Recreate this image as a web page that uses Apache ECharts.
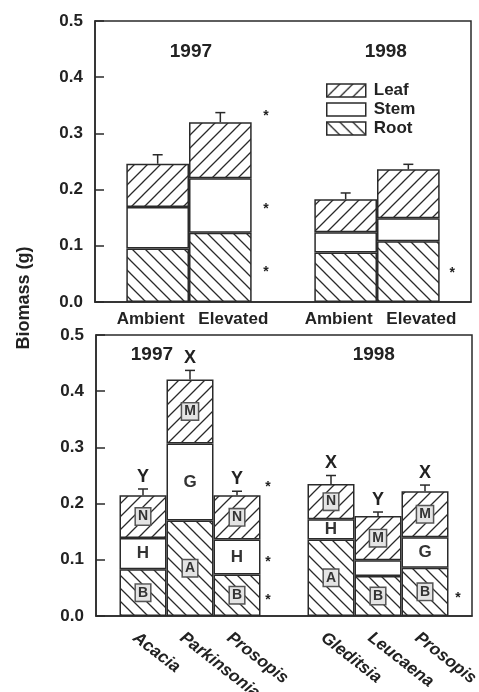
<html>
<head>
<meta charset="utf-8" />
<script src="https://cdn.jsdelivr.net/npm/echarts@6.0.0/dist/echarts.min.js"></script>
<style>
  body { margin: 0; background: #fff; }
  #main { width: 479px; height: 692px; }
</style>
</head>
<body>
<div id="main"></div>
<script>
// top panel: CO2 treatment (blank slots keep the gap between years)
const topCats = ['', 'Ambient', 'Elevated', '', 'Ambient', 'Elevated', ''];
const topRoot = [null, 0.095, 0.123, null, 0.088, 0.108, null];
const topStem = [null, 0.074, 0.097, null, 0.036, 0.041, null];
const topLeaf = [null, 0.077, 0.100, null, 0.059, 0.087, null];
const topErr = [null, 0.016, 0.017, null, 0.011, 0.009, null];
const topNotes = [
  ['1997', 1.53, 0.446], ['1998', 4.64, 0.446],
  ['*', 2.73, 0.338], ['*', 2.73, 0.173], ['*', 2.73, 0.061], ['*', 5.70, 0.059]
];

// bottom panel: species
const botCats = ['', 'Acacia', 'Parkinsonia', 'Prosopis', '', 'Gleditsia', 'Leucaena', 'Prosopis', ''];
const botRoot = [null, 0.083, 0.170, 0.074, null, 0.136, 0.071, 0.086, null];
const botStem = [null, 0.056, 0.137, 0.062, null, 0.036, 0.028, 0.054, null];
const botLeaf = [null, 0.076, 0.114, 0.079, null, 0.063, 0.079, 0.082, null];
const botErr = [null, 0.011, 0.016, 0.007, null, 0.015, 0.007, 0.011, null];
const botGroup = ['', 'Y', 'X', 'Y', '', 'X', 'Y', 'X', ''];
const rootTags = ['', 'B', 'A', 'B', '', 'A', 'B', 'B', ''];
const stemTags = ['', 'H', 'G', 'H', '', 'H', '', 'G', ''];
const leafTags = ['', 'N', 'M', 'N', '', 'N', 'M', 'M', ''];
const botNotes = [
  ['1997', 1.19, 0.464], ['1998', 5.91, 0.464],
  ['*', 3.66, 0.236], ['*', 3.66, 0.103], ['*', 3.66, 0.035], ['*', 7.70, 0.039]
];

const FONT = "'Liberation Sans', Arial, sans-serif";
const INK = '#2a2a2a';

function hatch(dir) {
  const s = 13;
  const c = document.createElement('canvas');
  c.width = s;
  c.height = s;
  const g = c.getContext('2d');
  g.fillStyle = '#fff';
  g.fillRect(0, 0, s, s);
  g.strokeStyle = INK;
  g.lineWidth = 1.3;
  g.beginPath();
  if (dir > 0) {
    g.moveTo(0, s); g.lineTo(s, 0);
    g.moveTo(-2, 2); g.lineTo(2, -2);
    g.moveTo(s - 2, s + 2); g.lineTo(s + 2, s - 2);
  } else {
    g.moveTo(0, 0); g.lineTo(s, s);
    g.moveTo(-2, s - 2); g.lineTo(2, s + 2);
    g.moveTo(s - 2, -2); g.lineTo(s + 2, 2);
  }
  g.stroke();
  return { image: c, repeat: 'repeat' };
}

const fills = { Leaf: hatch(1), Stem: '#fff', Root: hatch(-1) };

function bars(name, data, xi, yi, tags, boxed) {
  const s = {
    name: name,
    type: 'bar',
    stack: 'p' + yi,
    xAxisIndex: xi,
    yAxisIndex: yi,
    barWidth: '100%',
    data: data,
    itemStyle: { color: fills[name], borderColor: INK, borderWidth: 1.5 },
    emphasis: { disabled: true }
  };
  if (tags) {
    s.label = {
      show: true,
      position: 'inside',
      formatter: p => tags[p.dataIndex],
      fontFamily: FONT,
      fontWeight: 'bold',
      color: '#333',
      textBorderWidth: 0,
      fontSize: boxed ? 14 : 17
    };
    if (boxed) {
      Object.assign(s.label, {
        backgroundColor: '#e4e4e4',
        borderColor: '#555',
        borderWidth: 1.5,
        padding: [2, 2, 0, 2]
      });
    }
  }
  return s;
}

function errorBars(root, stem, leaf, err, letters, xi, yi) {
  const data = [];
  root.forEach((r, i) => {
    if (r !== null) data.push([i, r + stem[i] + leaf[i], err[i]]);
  });
  return {
    type: 'custom',
    xAxisIndex: xi,
    yAxisIndex: yi,
    data: data,
    z: 5,
    renderItem: (params, api) => {
      const x = api.value(0);
      const top = api.value(1);
      const a = api.coord([x, top]);
      const b = api.coord([x, top + api.value(2)]);
      const line = { stroke: INK, lineWidth: 1.5 };
      const kids = [
        { type: 'line', shape: { x1: a[0], y1: a[1], x2: b[0], y2: b[1] }, style: line },
        { type: 'line', shape: { x1: b[0] - 5, y1: b[1], x2: b[0] + 5, y2: b[1] }, style: line }
      ];
      if (letters) {
        kids.push({
          type: 'text', x: b[0], y: b[1] - 3,
          style: { text: letters[x], font: 'bold 18px ' + FONT, fill: '#222', align: 'center', verticalAlign: 'bottom' }
        });
      }
      return { type: 'group', children: kids };
    }
  };
}

function notes(list, xi, yi) {
  return {
    type: 'custom',
    xAxisIndex: xi,
    yAxisIndex: yi,
    data: list.map(n => [n[1], n[2]]),
    z: 5,
    renderItem: (params, api) => {
      const p = api.coord([api.value(0), api.value(1)]);
      const t = list[params.dataIndex][0];
      const star = t === '*';
      return {
        type: 'text', x: p[0], y: p[1] + (star ? 4 : 0),
        style: {
          text: t, font: (star ? 'bold 14px ' : 'bold 19px ') + FONT,
          fill: '#222', align: 'center', verticalAlign: 'middle'
        }
      };
    }
  };
}

// slanted species names hung under each bar
function slantedNames(cats, xi, yi) {
  const data = [];
  cats.forEach((c, i) => { if (c) data.push([i, 0]); });
  return {
    type: 'custom',
    xAxisIndex: xi,
    yAxisIndex: yi,
    data: data,
    clip: false,
    renderItem: (params, api) => {
      const p = api.coord([api.value(0), 0]);
      return {
        type: 'text', x: p[0] - 3, y: p[1] + 13, rotation: -38 * Math.PI / 180,
        style: {
          text: cats[api.value(0)], font: 'italic bold 17px ' + FONT,
          fill: '#222', align: 'left', verticalAlign: 'top'
        }
      };
    }
  };
}

const yAxisBase = {
  type: 'value',
  min: 0,
  max: 0.5,
  interval: 0.1,
  axisLine: { show: true, lineStyle: { color: INK, width: 1.5 } },
  axisTick: { show: true, inside: true, length: 9, lineStyle: { color: INK, width: 1.5 } },
  splitLine: { show: false },
  axisLabel: {
    margin: 12,
    formatter: v => v.toFixed(1),
    fontFamily: FONT, fontSize: 17, fontWeight: 'bold', color: '#222'
  }
};

const hiddenX = (grid, max) => ({ type: 'value', gridIndex: grid, min: 0, max: max, show: false });

const chart = echarts.init(document.getElementById('main'));
chart.setOption({
  animation: false,
  backgroundColor: '#fff',
  textStyle: { fontFamily: FONT },
  grid: [
    { left: 95, right: 8, top: 21, height: 281, show: true, borderColor: INK, borderWidth: 1.5,
      containLabel: false, outerBoundsMode: 'none' },
    { left: 96, right: 7, top: 335, height: 281, show: true, borderColor: INK, borderWidth: 1.5,
      containLabel: false, outerBoundsMode: 'none' }
  ],
  legend: {
    data: ['Leaf', 'Stem', 'Root'],
    orient: 'vertical',
    left: 321,
    top: 77,
    icon: 'rect',
    itemWidth: 39,
    itemHeight: 13,
    itemGap: 2,
    itemStyle: { borderColor: INK, borderWidth: 1.5 },
    textStyle: { fontFamily: FONT, fontSize: 17, fontWeight: 'bold', color: '#222', padding: [0, 0, 0, 3] },
    selectedMode: false
  },
  graphic: [{
    type: 'text',
    x: 24,
    y: 298,
    rotation: Math.PI / 2,
    style: { text: 'Biomass (g)', font: 'bold 18px ' + FONT, fill: '#222', align: 'center', verticalAlign: 'middle' }
  }],
  xAxis: [
    {
      type: 'category', gridIndex: 0, data: topCats, boundaryGap: false,
      axisLine: { lineStyle: { color: INK, width: 1.5 } },
      axisTick: { show: false },
      axisLabel: {
        interval: 0, margin: 9, color: '#222',
        formatter: v => v === 'Ambient' ? '{a|' + v + '}' : v === 'Elevated' ? '{e|' + v + '}' : '',
        rich: {
          a: { fontFamily: FONT, fontSize: 17, fontWeight: 'bold', color: '#222', padding: [0, 14, 0, 0] },
          e: { fontFamily: FONT, fontSize: 17, fontWeight: 'bold', color: '#222', padding: [0, 0, 0, 26] }
        }
      }
    },
    hiddenX(0, topCats.length - 1),
    {
      type: 'category', gridIndex: 1, data: botCats, boundaryGap: false,
      axisLine: { lineStyle: { color: INK, width: 1.5 } },
      axisTick: { show: false },
      axisLabel: { show: false }
    },
    hiddenX(1, botCats.length - 1)
  ],
  yAxis: [
    Object.assign({ gridIndex: 0 }, yAxisBase),
    Object.assign({ gridIndex: 1 }, yAxisBase)
  ],
  series: [
    bars('Root', topRoot, 0, 0),
    bars('Stem', topStem, 0, 0),
    bars('Leaf', topLeaf, 0, 0),
    errorBars(topRoot, topStem, topLeaf, topErr, null, 1, 0),
    notes(topNotes, 1, 0),
    bars('Root', botRoot, 2, 1, rootTags, true),
    bars('Stem', botStem, 2, 1, stemTags, false),
    bars('Leaf', botLeaf, 2, 1, leafTags, true),
    errorBars(botRoot, botStem, botLeaf, botErr, botGroup, 3, 1),
    notes(botNotes, 3, 1),
    slantedNames(botCats, 3, 1)
  ]
});
</script>
</body>
</html>
